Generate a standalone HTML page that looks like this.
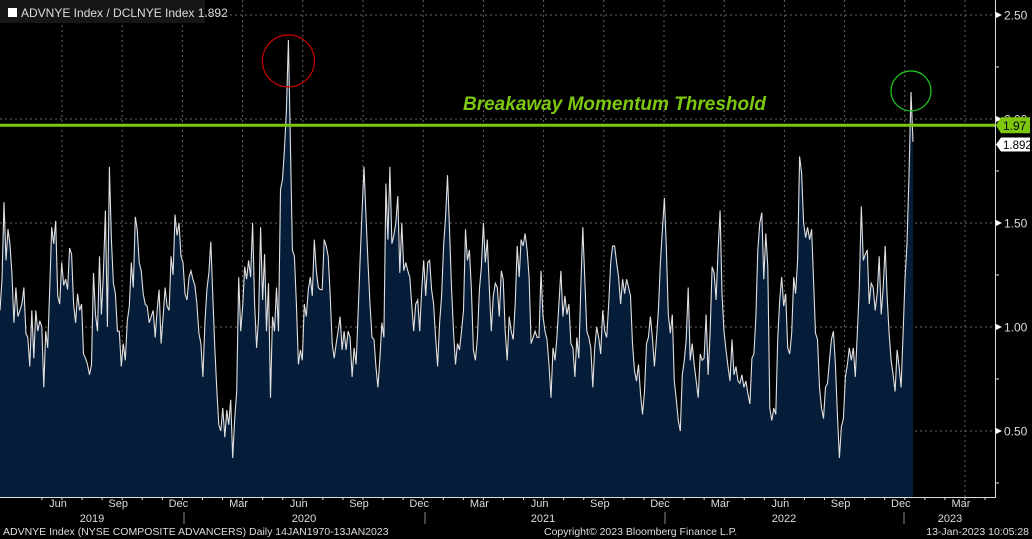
<!DOCTYPE html>
<html><head><meta charset="utf-8">
<style>
html,body{margin:0;padding:0;background:#000;}
svg{display:block;font-family:"Liberation Sans",sans-serif;}
</style></head>
<body>
<svg id="chart" width="1032" height="539" viewBox="0 0 1032 539" xmlns="http://www.w3.org/2000/svg">
<rect x="0" y="0" width="1032" height="539" fill="#000"/>
<g id="grid"></g>
<path id="area" fill="#061d3a"/>
<path id="line" fill="none" stroke="#e0e0e0" stroke-width="1.1"/>
<line id="thresh" x1="0" x2="995" stroke="#7dc80e" stroke-width="3"/>
<text x="463" y="110" fill="#7dc80e" font-size="19" font-weight="bold" font-style="italic">Breakaway Momentum Threshold</text>
<circle id="c1" r="26" fill="none" stroke="#c00000" stroke-width="1.3"/>
<circle id="c2" r="20" fill="none" stroke="#1fbf1f" stroke-width="1.3"/>
<g id="yaxis"></g>
<g id="xaxis"></g>
<g>
<rect x="0" y="0" width="205" height="23" fill="#161616"/>
<rect x="8" y="8" width="9" height="9" fill="#fff"/>
<text x="21" y="17" fill="#ddd" font-size="12">ADVNYE Index / DCLNYE Index 1.892</text>
</g>
<text x="3" y="535" fill="#ddd" font-size="10.5">ADVNYE Index (NYSE COMPOSITE ADVANCERS)  Daily 14JAN1970-13JAN2023</text>
<text x="544" y="535" fill="#ddd" font-size="10.5">Copyright© 2023 Bloomberg Finance L.P.</text>
<text x="1029" y="535" fill="#ddd" font-size="10.5" text-anchor="end">13-Jan-2023 10:05:28</text>
</svg>
<script>
const values = [
1.08,1.23,1.60,1.32,1.47,1.40,1.26,1.02,1.19,1.05,1.08,
1.11,1.19,0.97,0.95,0.81,1.08,0.85,1.08,0.98,1.03,1.00,
0.71,0.98,0.90,1.18,1.48,1.40,1.51,1.15,1.11,1.31,1.20,
1.23,1.18,1.38,1.35,1.11,1.02,1.16,1.08,1.11,0.87,0.85,
0.82,0.77,0.82,1.26,1.06,0.98,1.34,1.06,1.26,1.56,1.00,
1.77,1.42,1.21,1.16,0.98,0.98,0.81,0.92,0.84,1.03,1.10,
1.31,1.19,1.53,1.47,1.31,1.27,1.16,1.11,1.10,1.02,1.05,
1.08,0.95,1.08,1.18,0.92,1.05,1.19,1.10,1.08,1.34,1.25,
1.54,1.44,1.50,1.34,1.31,1.16,1.13,1.24,1.27,1.23,1.20,
1.11,0.97,0.92,0.76,1.02,1.18,1.26,1.41,1.15,0.90,0.70,
0.53,0.50,0.61,0.47,0.60,0.53,0.65,0.37,0.56,0.69,
1.24,0.98,1.10,1.29,1.23,1.32,1.24,1.50,1.11,0.90,1.05,
1.48,1.13,1.35,0.98,1.21,0.66,1.05,0.98,1.19,0.98,
1.66,1.71,1.85,2.04,2.38,1.88,1.37,1.34,1.11,0.82,
0.89,0.84,1.11,1.05,1.18,1.24,1.15,1.42,
1.27,1.19,1.18,1.18,1.42,1.39,1.34,1.15,0.92,0.85,
0.92,0.98,1.05,0.89,0.98,0.89,0.98,0.95,0.76,0.90,0.82,1.05,1.31,1.55,1.77,1.53,1.31,1.11,0.95,0.94,
0.81,0.71,0.85,1.02,0.95,1.69,1.42,1.77,1.40,1.44,1.50,1.63,1.26,1.50,1.27,1.31,1.27,1.24,1.11,0.98,
1.11,1.13,0.98,1.18,1.32,1.15,1.31,1.32,1.18,1.11,0.95,0.81,1.02,1.15,1.39,1.53,1.73,1.47,1.19,0.98,
0.82,0.92,0.89,0.98,1.08,1.47,1.32,1.37,1.18,0.89,0.84,0.95,1.18,1.29,1.50,1.31,1.42,1.19,0.98,1.15,
1.21,1.19,1.05,1.27,1.23,0.98,0.84,1.05,0.98,0.94,1.11,1.39,1.24,1.42,1.39,1.45,1.37,1.24,0.92,0.95,
0.98,0.95,0.95,1.27,1.05,0.98,0.94,0.82,0.66,0.90,0.84,0.95,1.11,1.27,1.05,1.15,1.06,1.11,0.92,0.90,
0.76,0.95,0.85,1.19,1.48,1.23,0.98,0.95,0.90,0.71,0.90,1.00,0.95,0.87,1.08,0.98,0.95,1.11,1.31,1.39,
1.39,1.31,1.24,1.11,1.23,1.16,1.23,1.19,1.15,0.92,0.79,0.74,0.82,0.68,0.58,0.69,0.92,0.95,1.05,0.95,
0.81,0.94,1.08,1.31,1.47,1.62,
1.37,1.06,0.97,1.06,0.74,0.65,0.55,0.50,0.77,0.84,0.94,1.19,0.84,0.92,0.82,0.74,0.66,0.87,0.84,0.85,
1.06,0.77,0.97,1.29,1.26,1.13,1.37,1.56,1.16,0.98,0.89,0.81,0.74,0.94,0.77,0.81,0.74,0.73,0.77,0.71,
0.74,0.68,0.63,0.85,0.87,1.05,1.37,1.50,1.55,1.23,1.45,1.29,0.61,0.55,0.61,0.58,0.94,1.13,1.24,1.10,
1.16,0.90,0.87,0.97,1.24,1.16,1.32,1.82,1.74,1.50,1.43,1.48,1.42,1.47,1.23,0.97,0.94,0.71,0.61,0.56,
0.71,0.73,0.84,0.94,0.98,0.82,0.58,0.37,0.52,0.56,0.76,0.82,0.90,0.84,0.90,0.76,0.97,1.19,1.58,1.32,
1.35,1.37,1.11,1.21,1.19,1.08,1.16,1.34,1.06,1.19,1.39,1.15,0.97,0.84,0.77,0.69,0.89,0.81,0.71,0.97,
1.23,1.40,1.73,2.13,1.89
];
const yTicks = [0.5,1.0,1.5,2.0,2.5];
const yTickLabels = ["0.50","1.00","1.50","2.00","2.50"];
const monthLabels = ["Jun","Sep","Dec","Mar","Jun","Sep","Dec","Mar","Jun","Sep","Dec","Mar","Jun","Sep","Dec","Mar"];
const yearLabels = ["2019","2020","2021","2022","2023"];
const threshold = 1.97;
const lastValue = 1.892;

const NS="http://www.w3.org/2000/svg";
const X0=0, XEND=913, GRID0=62, QSTEP=60.2;
const yScale=v=>327-(v-1)*208;
const xScale=i=>X0+i*(XEND-X0)/(values.length-1);
function mk(tag,attrs,parent,txt){const e=document.createElementNS(NS,tag);for(const k in attrs)e.setAttribute(k,attrs[k]);if(txt!==undefined)e.textContent=txt;parent.appendChild(e);return e;}

const grid=document.getElementById('grid');
yTicks.forEach(v=>{
  const l=mk('line',{x1:0,x2:995,y1:yScale(v),y2:yScale(v),stroke:'#666','stroke-width':1,'stroke-dasharray':'2,3'},grid);
  
  
});
monthLabels.forEach((m,i)=>{
  const x=GRID0+i*QSTEP;
  const l=mk('line',{x1:x,x2:x,y1:0,y2:497,stroke:'#666','stroke-width':1,'stroke-dasharray':'2,3'},grid);
  
  
});

let d='';values.forEach((v,i)=>{d+=(i?'L':'M')+xScale(i).toFixed(1)+','+yScale(v).toFixed(1);});
document.getElementById('line').setAttribute('d',d);
document.getElementById('area').setAttribute('d',d+'L'+xScale(values.length-1).toFixed(1)+',497L0,497Z');

const th=document.getElementById('thresh');th.setAttribute('y1',yScale(threshold));th.setAttribute('y2',yScale(threshold));
let imax=0;values.forEach((v,i)=>{if(v>values[imax])imax=i;});
const c1=document.getElementById('c1');c1.setAttribute('cx',xScale(imax));c1.setAttribute('cy',yScale(values[imax])+21);
const il=values.length-2;
const c2=document.getElementById('c2');c2.setAttribute('cx',xScale(il));c2.setAttribute('cy',yScale(values[il])-1);

const ya=document.getElementById('yaxis');
mk('line',{x1:995.5,x2:995.5,y1:0,y2:497,stroke:'#ddd','stroke-width':1},ya);
for(let v=0.25;v<=2.5;v+=0.25){
  mk('line',{x1:995,x2:999,y1:yScale(v),y2:yScale(v),stroke:'#ddd'},ya);
}
yTicks.forEach((v,i)=>{
  const y=yScale(v);
  mk('path',{d:`M996,${y-3}L1002,${y}L996,${y+3}Z`,fill:'#fff'},ya);
  const t=mk('text',{x:1004,y:y+4.5,fill:'#ddd','font-size':12},ya,yTickLabels[i]);
  
  
});
const gy=yScale(threshold);
mk('path',{d:`M996,${gy}L1001,${gy-8}L1030,${gy-8}L1030,${gy+8}L1001,${gy+8}Z`,fill:'#7dc80e'},ya);
const gt=mk('text',{x:1003,y:gy+5,fill:'#000','font-size':12},ya,threshold.toFixed(2));


const wy=yScale(lastValue)+3;
mk('path',{d:`M996,${wy}L1001,${wy-7}L1030,${wy-7}L1030,${wy+7}L1001,${wy+7}Z`,fill:'#fff'},ya);
const wt=mk('text',{x:1003,y:wy+4.5,fill:'#000','font-size':11.5},ya,lastValue.toFixed(3));



const xa=document.getElementById('xaxis');
mk('line',{x1:0,x2:996,y1:497.5,y2:497.5,stroke:'#ddd'},xa);
for(let i=-1;i<48;i++){const x=GRID0+i*QSTEP/3;if(x>=0&&x<995)mk('line',{x1:x,x2:x,y1:497,y2:500,stroke:'#ddd'},xa);}
monthLabels.forEach((m,i)=>{
  const t=mk('text',{x:GRID0+i*QSTEP-4,y:507,fill:'#ddd','font-size':11,'text-anchor':'middle'},xa,m);
  
  
});
const yearCenters=[92,304,543,784,950];
[184,425,665,904].forEach(x=>mk('line',{x1:x,x2:x,y1:512,y2:524,stroke:'#888'},xa));
yearLabels.forEach((y,i)=>{
  const t=mk('text',{x:yearCenters[i],y:522,fill:'#ddd','font-size':11,'text-anchor':'middle'},xa,y);
  
  
});
</script>
</body></html>
